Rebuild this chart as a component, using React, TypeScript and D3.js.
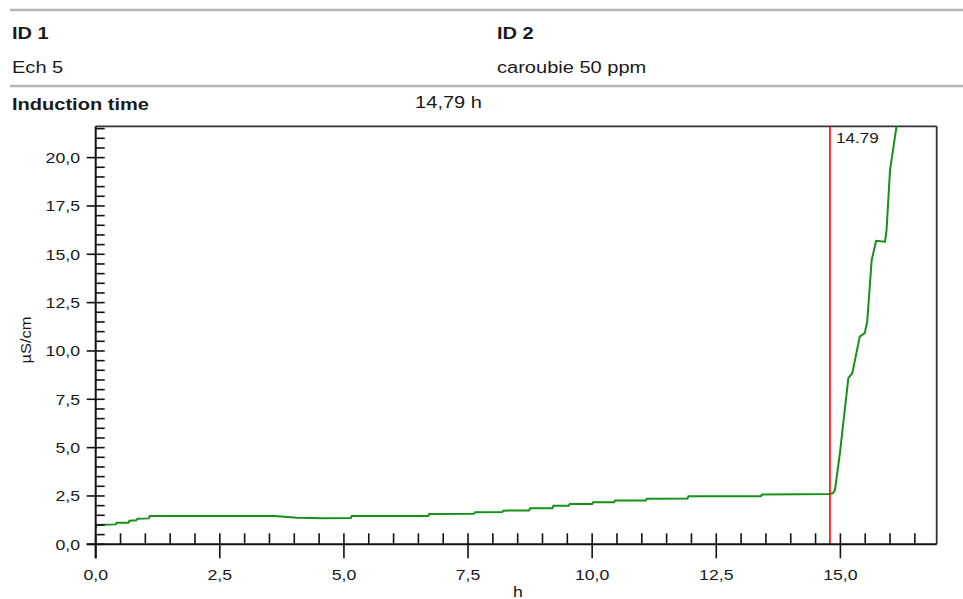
import React from "react";
import * as d3 from "d3";

// ---- Data ----
const TIME_H = [0, 0.02, 0.4, 0.42, 0.66, 0.68, 0.82, 0.84, 1.07, 1.09, 3.6, 3.8, 4.05, 4.6, 5.14, 5.16, 6.7, 6.72, 7.62, 7.64, 8.19, 8.21, 8.73, 8.75, 9.2, 9.22, 9.53, 9.55, 10.0, 10.02, 10.44, 10.46, 11.08, 11.1, 11.92, 11.94, 13.4, 13.42, 14.79, 14.85, 14.89, 14.99, 15.16, 15.24, 15.39, 15.49, 15.54, 15.63, 15.72, 15.9, 15.93, 16.0, 16.13, 16.2];
const CONDUCTIVITY = [0.83, 1.0, 1.03, 1.12, 1.12, 1.22, 1.24, 1.32, 1.34, 1.46, 1.46, 1.42, 1.37, 1.35, 1.36, 1.46, 1.47, 1.57, 1.58, 1.66, 1.67, 1.74, 1.75, 1.86, 1.87, 2.0, 2.0, 2.08, 2.09, 2.17, 2.17, 2.26, 2.27, 2.36, 2.37, 2.48, 2.49, 2.57, 2.6, 2.65, 2.8, 4.7, 8.59, 8.85, 10.74, 10.92, 11.52, 14.7, 15.7, 15.65, 16.26, 19.36, 21.6, 22.6];
const X_TICKS = [0, 2.5, 5, 7.5, 10, 12.5, 15];
const Y_TICKS = [0, 2.5, 5, 7.5, 10, 12.5, 15, 17.5, 20];
const X_DOMAIN = [0, 16.94];
const Y_DOMAIN = [0, 21.62];
const INDUCTION_TIME = 14.79;
const HEADER_ID1 = "ID 1";
const HEADER_ID2 = "ID 2";
const VALUE_ID1 = "Ech 5";
const VALUE_ID2 = "caroubie 50 ppm";
const INDUCTION_LABEL = "Induction time";
const INDUCTION_VALUE = "14,79 h";

const FONT = "'Liberation Sans', Arial, sans-serif";
const SX = 1.18;

function T(props: any) {
  const { x, y, anchor = "start", size = 15, weight = "normal", rot = 0, fill = "#1a1a1a", children } = props;
  return (
    <text
      transform={`translate(${x},${y}) rotate(${rot}) scale(${SX},1)`}
      textAnchor={anchor}
      fontSize={size}
      fontWeight={weight}
      fontFamily={FONT}
      fill={fill}
    >
      {children}
    </text>
  );
}

const fmt = (v: number) => v.toFixed(1).replace(".", ",");

export default function App() {
  const W = 963, H = 599;
  const left = 95.7, right = 936.7, top = 126.3, bottom = 544.3;
  const x = d3.scaleLinear().domain(X_DOMAIN).range([left, right]);
  const y = d3.scaleLinear().domain(Y_DOMAIN).range([bottom, top]);

  const data = TIME_H.map((t, i) => [t, CONDUCTIVITY[i]] as [number, number]);
  const line = d3.line<[number, number]>().x(d => x(d[0])).y(d => y(d[1]));

  const xMinor = d3.range(0, 16.9, 0.5).filter(v => !X_TICKS.some(t => Math.abs(t - v) < 1e-6));
  const yMinor = d3.range(0, 21.6, 0.5).filter(v => !Y_TICKS.some(t => Math.abs(t - v) < 1e-6));

  return (
    <svg width={W} height={H} style={{ position: "absolute", left: 0, top: 0, background: "#fff" }}>
      {/* header */}
      <line x1={10} x2={963} y1={10} y2={10} stroke="#b4b4b4" strokeWidth={2.5} />
      <line x1={10} x2={963} y1={86} y2={86} stroke="#b4b4b4" strokeWidth={2.5} />
      <T x={12} y={39} size={17} weight="bold">{HEADER_ID1}</T>
      <T x={497} y={39} size={17} weight="bold">{HEADER_ID2}</T>
      <T x={12} y={73} size={17}>{VALUE_ID1}</T>
      <T x={497} y={73} size={17}>{VALUE_ID2}</T>
      <T x={12} y={110} size={17} weight="bold">{INDUCTION_LABEL}</T>
      <T x={482} y={108} size={17} anchor="end">{INDUCTION_VALUE}</T>

      <defs>
        <clipPath id="plot">
          <rect x={left} y={top} width={right - left} height={bottom - top} />
        </clipPath>
      </defs>

      {/* frame */}
      <line x1={left} x2={right} y1={top} y2={top} stroke="#333" strokeWidth={1.8} />
      <line x1={right} x2={right} y1={top} y2={bottom} stroke="#333" strokeWidth={1.8} />

      {/* data */}
      <path d={line(data) || ""} fill="none" stroke="#15901a" strokeWidth={2} clipPath="url(#plot)" />

      {/* induction line */}
      <line x1={x(INDUCTION_TIME)} x2={x(INDUCTION_TIME)} y1={top} y2={bottom} stroke="#ff0000" strokeWidth={1.6} />
      <T x={x(INDUCTION_TIME) + 6} y={143} size={14.5}>{INDUCTION_TIME.toFixed(2)}</T>

      {/* y axis */}
      <line x1={left} x2={left} y1={top} y2={bottom + 14} stroke="#111" strokeWidth={2} />
      {yMinor.map(v => (
        <line key={"ym" + v} x1={left} x2={left + 9} y1={y(v)} y2={y(v)} stroke="#111" strokeWidth={1.6} />
      ))}
      {Y_TICKS.map(v => (
        <g key={"yt" + v}>
          <line x1={left - 9} x2={left + 9} y1={y(v)} y2={y(v)} stroke="#111" strokeWidth={1.6} />
          <T x={80} y={y(v) + 5.5} size={15} anchor="end">{fmt(v)}</T>
        </g>
      ))}
      <T x={31} y={340} size={14} rot={-90} anchor="middle">µS/cm</T>

      {/* x axis */}
      <line x1={left - 9} x2={right} y1={bottom} y2={bottom} stroke="#111" strokeWidth={2} />
      {xMinor.map(v => (
        <line key={"xm" + v} x1={x(v)} x2={x(v)} y1={bottom} y2={bottom - 11} stroke="#111" strokeWidth={1.6} />
      ))}
      {X_TICKS.map(v => (
        <g key={"xt" + v}>
          <line x1={x(v)} x2={x(v)} y1={bottom - 11} y2={bottom + 14} stroke="#111" strokeWidth={1.6} />
          <T x={x(v)} y={580} size={15} anchor="middle">{fmt(v)}</T>
        </g>
      ))}
      <T x={518} y={597} size={15} anchor="middle">h</T>
    </svg>
  );
}
